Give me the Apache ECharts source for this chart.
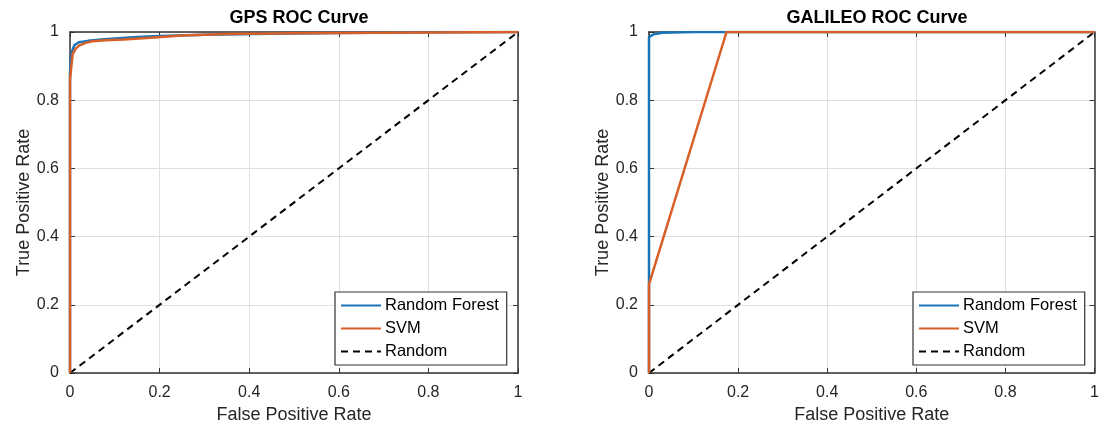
<!DOCTYPE html>
<html><head><meta charset="utf-8">
<script src="https://cdn.jsdelivr.net/npm/echarts@6/dist/echarts.min.js"></script>
<style>html,body{margin:0;padding:0;background:#fff}#c{width:1102px;height:436px}</style>
</head><body><div id="c"></div>
<script>
const titles = ['GPS ROC Curve', 'GALILEO ROC Curve'];
const seriesNames = ['Random Forest', 'SVM', 'Random'];
const xTicks = [0, 0.2, 0.4, 0.6, 0.8, 1];
const yTicks = [0, 0.2, 0.4, 0.6, 0.8, 1];
// GPS [FPR, TPR]
const gpsRF = [[0,0],[0,0.88],[0.002,0.92],[0.005,0.945],[0.01,0.962],[0.02,0.97],[0.04,0.974],[0.07,0.978],[0.1,0.981],[0.15,0.985],[0.2,0.988],[0.3,0.992],[0.45,0.995],[0.6,0.997],[0.8,0.999],[1,1]];
const gpsSVM = [[0,0],[0,0.86],[0.003,0.9],[0.006,0.935],[0.012,0.95],[0.02,0.96],[0.035,0.968],[0.05,0.973],[0.08,0.976],[0.12,0.978],[0.18,0.983],[0.25,0.99],[0.35,0.994],[0.5,0.996],[0.7,0.998],[1,1]];
// GALILEO
const galRF = [[0,0],[0,0.985],[0.01,0.993],[0.03,0.998],[0.1,1],[1,1]];
const galSVM = [[0,0],[0,0.26],[0.174,1],[1,1]];
const diag = [[0,0],[1,1]];

const txt = '#262626';
const font = 'Liberation Sans, Arial, sans-serif';
const grids = [
  {left: 70, right: 584, top: 32, bottom: 63},
  {left: 649, right: 7, top: 32, bottom: 63}
];
const xAxis = [], yAxis = [], series = [], legend = [], title = [];
const data = [[gpsRF, gpsSVM], [galRF, galSVM]];
const legendLeft = [335, 913];
const titleCenter = [294, 872];
const fmt = v => String(+v.toFixed(1));
grids.forEach((g, i) => {
  xAxis.push({type:'value', gridIndex:i, min:0, max:1, interval:0.2, name:'False Positive Rate', nameLocation:'middle', nameGap:28,
    nameTextStyle:{fontSize:18, color:txt, fontFamily:font},
    axisLine:{show:true, onZero:false, lineStyle:{color:'#333', width:1.5}},
    axisTick:{show:true, inside:true, length:5, lineStyle:{color:'#333'}},
    axisLabel:{fontSize:16, color:txt, fontFamily:font, margin:12, formatter: fmt},
    splitLine:{show:true, lineStyle:{color:'#e0e0e0', width:1}}});
  xAxis.push({type:'value', gridIndex:i, position:'top', min:0, max:1, interval:0.2,
    axisLine:{show:true, onZero:false, lineStyle:{color:'#333', width:1.5}},
    axisTick:{show:true, inside:true, length:5, lineStyle:{color:'#333'}},
    axisLabel:{show:false}, splitLine:{show:false}});
  yAxis.push({type:'value', gridIndex:i, min:0, max:1, interval:0.2, name:'True Positive Rate', nameLocation:'middle', nameGap:37,
    nameTextStyle:{fontSize:18, color:txt, fontFamily:font},
    axisLine:{show:true, onZero:false, lineStyle:{color:'#333', width:1.5}},
    axisTick:{show:true, inside:true, length:5, lineStyle:{color:'#333'}},
    axisLabel:{fontSize:16, color:txt, fontFamily:font, margin:11, formatter: fmt},
    splitLine:{show:true, lineStyle:{color:'#e0e0e0', width:1}}});
  yAxis.push({type:'value', gridIndex:i, position:'right', min:0, max:1, interval:0.2,
    axisLine:{show:true, onZero:false, lineStyle:{color:'#333', width:1.5}},
    axisTick:{show:true, inside:true, length:5, lineStyle:{color:'#333'}},
    axisLabel:{show:false}, splitLine:{show:false}});
  const xi = i*2, yi = i*2;
  series.push({name:seriesNames[0], type:'line', xAxisIndex:xi, yAxisIndex:yi, data:data[i][0], symbol:'none', z:3,
    lineStyle:{color:'#1a75b8', width:2.5}, itemStyle:{color:'#1a75b8'}});
  series.push({name:seriesNames[1], type:'line', xAxisIndex:xi, yAxisIndex:yi, data:data[i][1], symbol:'none', z:4,
    lineStyle:{color:'#d95f28', width:2.5}, itemStyle:{color:'#d95f28'}});
  series.push({name:seriesNames[2], type:'line', xAxisIndex:xi, yAxisIndex:yi, data:diag, symbol:'none', z:2,
    lineStyle:{color:'#000', width:2, type:[7,5]}, itemStyle:{color:'#000'}});
  title.push({text:titles[i], left:titleCenter[i], top:4, textAlign:'center',
    textStyle:{fontSize:18, fontWeight:'bold', color:'#000', fontFamily:font}});
  legend.push({orient:'vertical', left:legendLeft[i], top:292, data:seriesNames,
    backgroundColor:'#fff', borderColor:'#333', borderWidth:1.2, borderRadius:0,
    padding:[5,8,5,5], itemGap:6, itemWidth:40, itemHeight:16,
    itemStyle:{opacity:0},
    textStyle:{fontSize:16.5, color:'#000', fontFamily:font, padding:[0,0,0,-1]}, selectedMode:false});
});
const chart = echarts.init(document.getElementById('c'), null, {renderer:'canvas'});
chart.setOption({animation:false, backgroundColor:'#fff', title, grid:grids, xAxis, yAxis, series, legend});
</script></body></html>
